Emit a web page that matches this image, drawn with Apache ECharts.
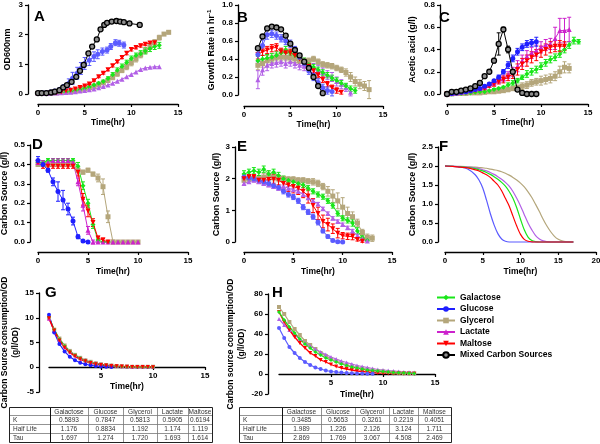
<!DOCTYPE html>
<html><head><meta charset="utf-8">
<script src="https://cdn.jsdelivr.net/npm/echarts@6/dist/echarts.min.js"></script>
<style>html,body{margin:0;padding:0;background:#fff}#c{width:600px;height:444px}</style>
</head><body><div id="c"></div>
<script>
// ---------------- DATA ----------------
const tHalfHour = [0,0.5,1,1.5,2,2.5,3,3.5,4,4.5,5,5.5,6,6.5,7,7.5,8,8.5,9,9.5,10,10.5,11,11.5,12,12.5,13,13.5,14];
const tB = [1.5,2,2.5,3,3.5,4,4.5,5,5.5,6,6.5,7,7.5,8,8.5,9,9.5,10,10.5,11,11.5,12,12.5,13,13.5];
const tF = [0,1,2,3,4,4.5,5,5.5,6,6.5,7,7.5,8,8.5,9,9.5,10,10.5,11,11.5,12,12.5,13,13.5,14,14.5,15,15.5,16,17];

// Panel A: OD600nm
const tA_mixed = [0,0.4,0.9,1.4,1.8,2.3,2.7,3.1,3.6,4.1,4.5,4.9,5.4,5.8,6.3,6.7,7.1,7.4,7.9,8.4,8.8,9.2,9.8,10.9];
const A_mixed = [0.03,0.03,0.03,0.05,0.08,0.13,0.22,0.3,0.41,0.58,0.78,0.98,1.37,1.6,1.84,2.18,2.33,2.4,2.44,2.46,2.44,2.42,2.38,2.33];
const tA_glucose = [0,0.45,0.9,1.35,1.8,2.35,2.8,3.3,3.7,4.2,4.6,5.0,5.5,6.0,6.4,6.9,7.4,7.8,8.3,8.7,9.2];
const A_glucose = [0.03,0.04,0.05,0.07,0.1,0.16,0.22,0.36,0.53,0.7,0.86,1.03,1.14,1.26,1.34,1.43,1.48,1.6,1.73,1.71,1.65];
const A_glucose_sd = [0.01,0.01,0.01,0.02,0.03,0.05,0.1,0.15,0.2,0.2,0.2,0.2,0.18,0.16,0.15,0.12,0.1,0.1,0.1,0.1,0.1];
const A_galactose = [0.02,0.02,0.03,0.03,0.04,0.05,0.07,0.09,0.12,0.15,0.19,0.24,0.3,0.36,0.42,0.52,0.65,0.8,0.93,1.06,1.2,1.3,1.36,1.45,1.53,1.6,1.64];
const A_galactose_sd = [0,0,0,0,0,0,0.01,0.01,0.01,0.02,0.02,0.03,0.03,0.04,0.05,0.06,0.07,0.08,0.08,0.08,0.08,0.08,0.1,0.1,0.1,0.1,0.1];
const A_glycerol = [0.02,0.02,0.03,0.03,0.04,0.05,0.06,0.08,0.1,0.13,0.17,0.21,0.26,0.32,0.38,0.46,0.56,0.68,0.8,0.92,1.05,1.18,1.32,1.46,1.6,1.75,1.9,2.02,2.08];
const A_glycerol_sd = [0,0,0,0,0,0,0.01,0.01,0.01,0.02,0.02,0.03,0.04,0.05,0.06,0.07,0.08,0.08,0.08,0.1,0.1,0.1,0.1,0.1,0.1,0.08,0.08,0.05,0.05];
const A_lactate = [0.02,0.02,0.02,0.03,0.03,0.04,0.05,0.06,0.08,0.1,0.12,0.14,0.17,0.21,0.25,0.3,0.36,0.43,0.5,0.58,0.66,0.74,0.83,0.88,0.9,0.92,0.92];
const A_maltose = [0.02,0.02,0.03,0.04,0.05,0.07,0.1,0.13,0.17,0.22,0.27,0.34,0.45,0.58,0.7,0.82,0.95,1.09,1.23,1.37,1.5,1.57,1.63,1.68,1.72,1.73];
const A_maltose_sd = [0,0,0,0,0,0,0,0.01,0.01,0.01,0.01,0.02,0.02,0.03,0.03,0.04,0.04,0.04,0.04,0.05,0.05,0.05,0.05,0.05,0.05,0.05];

// Panel B: growth rate
const B_mixed = [0.52,0.65,0.74,0.76,0.75,0.73,0.66,0.57,0.5,0.44,0.37,0.3,0.2,0.1,0.02];
const B_glucose = [0.45,0.55,0.67,0.68,0.66,0.63,0.6,0.57,0.5,0.42,0.35,0.27,0.2,0.14,0.08,0.05,0.04];
const B_glucose_sd = [0.08,0.06,0.05,0.04,0.04,0.04,0.04,0.04,0.04,0.04,0.04,0.04,0.04,0.04,0.04,0.04,0.05];
const B_maltose = [0.45,0.48,0.5,0.52,0.53,0.48,0.47,0.47,0.44,0.4,0.36,0.32,0.27,0.22,0.17,0.12,0.08,0.05,0.03];
const B_maltose_sd = [0.05,0.04,0.04,0.04,0.04,0.04,0.04,0.04,0.04,0.04,0.03,0.03,0.03,0.03,0.03,0.03,0.03,0.03,0.02];
const B_galactose = [0.38,0.4,0.41,0.42,0.44,0.47,0.5,0.47,0.44,0.41,0.38,0.34,0.31,0.28,0.25,0.22,0.19,0.16,0.13,0.1,0.07,0.05];
const B_galactose_sd = [0.05,0.04,0.04,0.04,0.04,0.04,0.04,0.03,0.03,0.03,0.03,0.03,0.03,0.03,0.03,0.03,0.03,0.03,0.03,0.03,0.03,0.03];
const B_glycerol = [0.33,0.35,0.38,0.4,0.42,0.42,0.42,0.41,0.4,0.38,0.38,0.38,0.4,0.37,0.34,0.33,0.32,0.3,0.28,0.25,0.2,0.15,0.12,0.1,0.06];
const B_glycerol_sd = [0.05,0.04,0.06,0.04,0.04,0.04,0.04,0.04,0.04,0.03,0.03,0.03,0.03,0.03,0.03,0.03,0.03,0.03,0.03,0.04,0.05,0.05,0.05,0.05,0.1];
const B_lactate = [0.17,0.28,0.33,0.35,0.36,0.37,0.35,0.37,0.35,0.33,0.32,0.3,0.3,0.28,0.25,0.22,0.2,0.15,0.12,0.08,0.03];
const B_lactate_sd = [0.1,0.06,0.06,0.05,0.05,0.05,0.05,0.05,0.05,0.05,0.05,0.05,0.05,0.05,0.05,0.05,0.05,0.05,0.05,0.04,0.04];

// Panel C: acetic acid
const C_mixed = [0,0.02,0.02,0.03,0.04,0.05,0.07,0.1,0.16,0.2,0.3,0.45,0.58,0.4,0.2,0.04,0.01,0,0,0];
const C_mixed_sd = [0,0,0,0,0,0,0,0,0.01,0.01,0.02,0.1,0.02,0.03,0.02,0.01,0,0,0,0];
const C_glucose = [0,0.005,0.01,0.015,0.02,0.03,0.04,0.05,0.07,0.09,0.12,0.15,0.2,0.26,0.32,0.38,0.42,0.45,0.46,0.47];
const C_glucose_sd = [0,0,0,0,0,0,0,0,0.01,0.01,0.01,0.02,0.02,0.03,0.03,0.03,0.03,0.03,0.03,0.04];
const C_maltose = [0,0.005,0.01,0.015,0.02,0.025,0.03,0.04,0.05,0.07,0.09,0.11,0.13,0.15,0.18,0.22,0.27,0.3,0.33,0.35,0.38,0.4,0.42,0.43,0.43,0.43];
const C_maltose_sd = [0,0,0,0,0,0,0,0,0.01,0.01,0.02,0.02,0.03,0.03,0.04,0.05,0.05,0.05,0.05,0.05,0.05,0.05,0.05,0.05,0.05,0.04];
const C_lactate = [0,0.005,0.01,0.015,0.02,0.03,0.04,0.05,0.06,0.08,0.1,0.12,0.14,0.17,0.2,0.25,0.3,0.34,0.37,0.39,0.42,0.44,0.45,0.5,0.57,0.57,0.58];
const C_lactate_sd = [0,0,0,0,0,0,0,0,0.01,0.01,0.02,0.02,0.03,0.03,0.04,0.05,0.05,0.05,0.05,0.05,0.05,0.05,0.05,0.1,0.11,0.11,0.11];
const C_galactose = [0,0,0.005,0.005,0.01,0.01,0.015,0.02,0.02,0.03,0.04,0.05,0.06,0.08,0.1,0.12,0.15,0.18,0.2,0.22,0.25,0.28,0.31,0.33,0.36,0.4,0.44,0.48,0.47];
const C_galactose_sd = [0,0,0,0,0,0,0,0,0,0,0.01,0.01,0.01,0.02,0.02,0.02,0.02,0.03,0.03,0.03,0.03,0.03,0.03,0.03,0.03,0.03,0.03,0.03,0.02];
const C_glycerol = [0,0,0.005,0.005,0.005,0.01,0.01,0.01,0.015,0.02,0.02,0.025,0.03,0.04,0.05,0.06,0.07,0.08,0.1,0.11,0.12,0.13,0.14,0.16,0.2,0.24,0.23];
const C_glycerol_sd = [0,0,0,0,0,0,0,0,0,0,0.01,0.01,0.01,0.02,0.02,0.02,0.03,0.03,0.03,0.03,0.04,0.04,0.04,0.04,0.05,0.05,0.04];

// Panel D: carbon source (g/l), 0.4 g/l
const D_glucose = [0.42,0.4,0.37,0.31,0.26,0.216,0.17,0.108,0.027,0.005,0];
const D_glucose_sd = [0.02,0.01,0.01,0.02,0.05,0.05,0.03,0.02,0.01,0,0];
const D_galactose = [0.41,0.41,0.42,0.42,0.42,0.42,0.42,0.42,0.39,0.29,0.2,0.09,0.01,0,0];
const D_galactose_sd = [0.01,0.01,0.01,0.01,0.01,0.01,0.01,0.01,0.02,0.02,0.02,0.02,0.01,0,0];
const D_maltose = [0.41,0.39,0.39,0.39,0.39,0.39,0.39,0.39,0.36,0.22,0.16,0.1,0.02,0.01,0];
const D_maltose_sd = [0.01,0.01,0.01,0.01,0.01,0.01,0.01,0.01,0.02,0.03,0.03,0.02,0.01,0.01,0];
const D_lactate = [0.41,0.41,0.41,0.42,0.42,0.42,0.42,0.41,0.31,0.19,0.06,0,0,0,0,0,0,0,0,0,0];
const D_lactate_sd = [0.01,0.01,0.01,0.01,0.01,0.01,0.01,0.01,0.02,0.03,0.02,0.01,0,0,0,0,0,0,0,0,0];
const D_glycerol = [0.4,0.4,0.4,0.4,0.4,0.4,0.4,0.4,0.37,0.36,0.37,0.35,0.33,0.285,0.13,0,0,0,0,0,0];
const D_glycerol_sd = [0.01,0.01,0.01,0.01,0.01,0.01,0.01,0.01,0.01,0.01,0.01,0.01,0.02,0.04,0.03,0.01,0,0,0,0,0];

// Panel E: carbon source (g/l), 2 g/l
const E_glucose = [2.05,2.02,2.0,1.95,1.9,1.85,1.78,1.72,1.6,1.5,1.42,1.3,1.1,0.95,0.8,0.62,0.35,0.17,0.05,0.01,0];
const E_glucose_sd = [0.1,0.08,0.08,0.08,0.08,0.08,0.08,0.08,0.08,0.08,0.08,0.08,0.08,0.08,0.08,0.08,0.06,0.05,0.04,0.03,0.02];
const E_maltose = [2.0,2.05,2.05,1.95,1.95,1.97,1.98,1.95,1.85,1.8,1.75,1.7,1.6,1.45,1.15,0.9,0.65,0.55,0.42,0.28,0.2,0.18,0.17,0.08,0.02];
const E_maltose_sd = [0.05,0.08,0.08,0.1,0.1,0.1,0.15,0.15,0.2,0.2,0.2,0.2,0.2,0.22,0.22,0.2,0.2,0.2,0.15,0.15,0.1,0.1,0.1,0.05,0.03];
const E_galactose = [2.15,2.2,2.25,2.2,2.3,2.15,2.2,2.1,2.0,1.95,1.9,1.85,1.8,1.7,1.6,1.5,1.43,1.3,1.15,0.9,0.75,0.68,0.6,0.35,0.14,0.05];
const E_galactose_sd = [0.1,0.1,0.1,0.1,0.1,0.1,0.1,0.1,0.08,0.08,0.08,0.08,0.08,0.08,0.08,0.08,0.08,0.08,0.08,0.08,0.08,0.08,0.1,0.1,0.05,0.03];
const E_lactate = [1.85,1.9,1.95,1.9,1.85,1.8,1.75,1.7,1.75,1.7,1.65,1.6,1.5,1.4,1.3,1.2,1.05,0.9,0.75,0.65,0.55,0.45,0.35,0.2,0.1,0.03];
const E_lactate_sd = [0.05,0.05,0.05,0.05,0.05,0.05,0.05,0.05,0.05,0.05,0.05,0.05,0.05,0.05,0.05,0.05,0.05,0.05,0.05,0.05,0.05,0.05,0.05,0.05,0.03,0.02];
const E_glycerol = [1.95,2.0,2.0,2.0,2.05,2.1,2.05,2.0,2.0,1.98,1.98,1.95,1.95,1.92,1.9,1.85,1.75,1.6,1.45,1.3,1.1,0.9,0.8,0.6,0.3,0.15,0.12];
const E_glycerol_sd = [0.05,0.08,0.08,0.1,0.12,0.15,0.12,0.1,0.08,0.08,0.08,0.08,0.08,0.08,0.1,0.1,0.1,0.15,0.2,0.25,0.3,0.2,0.15,0.12,0.1,0.1,0.1];

// Panel F: fitted carbon source curves
const F_glucose = [2.0,1.99,1.97,1.92,1.77,1.63,1.42,1.1,0.75,0.45,0.22,0.08,0.02,0,0,0,0,0,0,0,0,0,0,0,0,0,0,0,0,0];
const F_maltose = [2.0,1.99,1.97,1.95,1.9,1.87,1.82,1.77,1.7,1.6,1.5,1.35,1.15,0.95,0.68,0.42,0.2,0.07,0.02,0.005,0,0,0,0,0,0,0,0,0,0];
const F_galactose = [2.0,1.99,1.98,1.96,1.93,1.9,1.87,1.83,1.78,1.72,1.65,1.57,1.47,1.33,1.15,0.9,0.6,0.32,0.13,0.04,0.01,0,0,0,0,0,0,0,0,0];
const F_lactate = [2.0,1.99,1.98,1.97,1.95,1.93,1.9,1.87,1.83,1.78,1.72,1.65,1.57,1.47,1.33,1.15,0.95,0.72,0.5,0.32,0.17,0.08,0.03,0.01,0,0,0,0,0,0];
const F_glycerol = [2.0,1.99,1.99,1.98,1.97,1.96,1.95,1.94,1.92,1.9,1.88,1.85,1.81,1.76,1.7,1.63,1.55,1.45,1.32,1.17,0.99,0.8,0.6,0.42,0.27,0.15,0.07,0.03,0.01,0];

// Panel G: consumption/OD (0.4 g/l)
const G_galactose = [10.2,7.6,5.7,4.3,3.2,2.4,1.8,1.3,1.0,0.7,0.5,0.4,0.3,0.2,0.15,0.1,0.1,0.05,0.05,0.05,0.05];
const G_glucose = [10.6,7.0,4.7,3.2,2.1,1.4,0.9,0.6,0.4,0.25,0.15,0.1,0.05];
const G_glycerol = [10.0,7.6,5.8,4.4,3.3,2.5,1.9,1.4,1.1,0.8,0.6,0.45,0.35,0.25,0.2,0.15,0.1,0.1,0.1,0.1,0.1];
const G_lactate = [9.8,7.4,5.6,4.2,3.2,2.4,1.8,1.4,1.0,0.8,0.6,0.45,0.35,0.25,0.2,0.15,0.1,0.1,0.1,0.1,0.1];
const G_maltose = [9.9,7.4,5.4,4.0,3.0,2.2,1.6,1.2,0.85,0.6,0.45,0.33,0.25,0.18,0.13,0.1,0.07,0.05,0.04,0.03,0.02];

// Panel H: consumption/OD (2 g/l)
const H_glucose = [46,36,27,21,16,12,9,6.5,5,3.5,2.5,2,1.5,1,0.8,0.6,0.4,0.3,0.2];
const H_maltose = [62,52,44,37,31,26,21,18,14,12,9.5,7.5,6,5,4,3,2.5,2,1.5,1,0.8,0.6,0.5,0.4,0.3,0.3,0.2];
const H_galactose = [62,54,47,41,35,30,26,22,19,16,14,12,10,8.5,7,6,5,4,3.5,3,2.5,2,1.5,1.2,1,0.8,0.6];
const H_glycerol = [67,60,52,45,39,33,29,25,21,18,15,13,11,9,7.5,6.5,5.5,4.5,3.5,3,2.5,2,1.5,1.2,1,0.8,0.6];
const H_lactate = [55,49,44,39,35,31,28,25,22,19.5,17,15,13,11.5,10,8.5,7.5,6.5,5.5,4.5,4,3.5,3,2.5,2,1.8,1.5];

// Tables
const tableHeaders = ['Galactose','Glucose','Glycerol','Lactate','Maltose'];
const tableRowLabels = ['K','Half Life','Tau'];
const G_K = ['0.5893','0.7847','0.5813','0.5905','0.6194'];
const G_halfLife = ['1.176','0.8834','1.192','1.174','1.119'];
const G_tau = ['1.697','1.274','1.720','1.693','1.614'];
const H_K = ['0.3485','0.5653','0.3261','0.2219','0.4051'];
const H_halfLife = ['1.989','1.226','2.126','3.124','1.711'];
const H_tau = ['2.869','1.769','3.067','4.508','2.469'];

const legendNames = ['Galactose','Glucose','Glycerol','Lactate','Maltose','Mixed Carbon Sources'];

// ---------------- STYLE ----------------
const FONT = '"Liberation Sans", Arial, sans-serif';
const COLORS = {Galactose:'#19e619', Glucose:'#1f1fff', Glycerol:'#b4a67b', Lactate:'#cc22cc', Maltose:'#ff0000', 'Mixed Carbon Sources':'#000000'};
const LIGHT = {Glucose:'#5b5bff', Lactate:'#b260e6'};
const SYMBOL = {Galactose:'diamond', Glucose:'circle', Glycerol:'rect', Lactate:'triangle', Maltose:'triangle', 'Mixed Carbon Sources':'circle'};

const grids=[], xAxes=[], yAxes=[], series=[];

function panel(c){
  const gi = grids.length;
  grids.push({left:c.left, top:c.top, width:c.width, height:c.height, outerBoundsMode:'none', containLabel:false});
  xAxes.push({gridIndex:gi, type:'value', min:c.xMin, max:c.xMax, interval:5, offset:c.xOff||0,
    axisLine:{show:true, onZero:false, lineStyle:{color:'#000', width:1.3}},
    axisTick:{show:true, length:3, lineStyle:{color:'#000', width:1.2}},
    axisLabel:{fontSize:8, fontWeight:'bold', color:'#000', fontFamily:FONT, margin:5, showMinLabel:!c.hideMin},
    splitLine:{show:false},
    name:'Time(hr)', nameLocation:'middle', nameGap:c.xGap,
    nameTextStyle:{fontSize:8.5, fontWeight:'bold', color:'#000', fontFamily:FONT}});
  yAxes.push({gridIndex:gi, type:'value', min:c.yMin, max:c.yMax, interval:c.yInt, offset:c.yOff,
    axisLine:{show:true, onZero:false, lineStyle:{color:'#000', width:1.3}},
    axisTick:{show:true, length:3, lineStyle:{color:'#000', width:1.2}},
    axisLabel:{fontSize:8, fontWeight:'bold', color:'#000', fontFamily:FONT, margin:5, formatter:v=>v.toFixed(c.yDec)},
    splitLine:{show:false},
    name:c.yName, nameLocation:'middle', nameGap:c.yGap, nameRotate:90,
    nameTextStyle:{fontSize:c.yNameSize||9, fontWeight:'bold', color:'#000', fontFamily:FONT, lineHeight:11,
      rich:{n:{fontSize:9, fontWeight:'bold', fontFamily:FONT}, s:{fontSize:6, fontWeight:'bold', fontFamily:FONT, verticalAlign:'top', padding:[0,0,5,0]}}}});
  return gi;
}

function addLine(gi, name, t, vals, sd, o){
  o = o || {};
  const col = (o.light && LIGHT[name]) ? LIGHT[name] : COLORS[name];
  const mixed = name==='Mixed Carbon Sources';
  series.push({type:'line', name, xAxisIndex:gi, yAxisIndex:gi,
    data: vals.map((v,i)=>[t[i], v]),
    symbol: SYMBOL[name], symbolSize: mixed ? 5 : (o.size||5), symbolRotate: name==='Maltose' ? 180 : 0,
    showSymbol: o.noSymbol ? false : true, smooth: o.smooth || false,
    lineStyle:{color:col, width:o.lw||1},
    itemStyle:{color: mixed ? '#8e8e8e' : col, borderColor: col, borderWidth: mixed ? 1.3 : 0},
    z: o.z||3, animation:false, silent:true, clip:false});
  if (sd) {
    series.push({type:'custom', name:name+' SD', xAxisIndex:gi, yAxisIndex:gi, coordinateSystem:'cartesian2d',
      data: vals.map((v,i)=>[t[i], v, sd[i]]), z:2, silent:true, animation:false, clip:false,
      renderItem:(p, api)=>{
        const x=api.value(0), y=api.value(1), d=api.value(2);
        if (!d) return null;
        const a=api.coord([x,y+d]), b=api.coord([x,y-d]), w=2;
        const st={stroke:col, lineWidth:1};
        return {type:'group', children:[
          {type:'line', shape:{x1:a[0],y1:a[1],x2:b[0],y2:b[1]}, style:st},
          {type:'line', shape:{x1:a[0]-w,y1:a[1],x2:a[0]+w,y2:a[1]}, style:st},
          {type:'line', shape:{x1:b[0]-w,y1:b[1],x2:b[0]+w,y2:b[1]}, style:st}]};
      }});
  }
}

// ---------------- PANELS ----------------
const gD = panel({left:38, top:145, width:150, height:97, xMin:0, xMax:15, xOff:10, xGap:15, yMin:0, yMax:0.5, yInt:0.1, yDec:1, yOff:8, yGap:20, yName:'Carbon Source (g/l)'});
addLine(gD,'Glycerol',tHalfHour,D_glycerol,D_glycerol_sd);
addLine(gD,'Galactose',tHalfHour,D_galactose,D_galactose_sd);
addLine(gD,'Lactate',tHalfHour,D_lactate,D_lactate_sd);
addLine(gD,'Maltose',tHalfHour,D_maltose,D_maltose_sd);
addLine(gD,'Glucose',tHalfHour,D_glucose,D_glucose_sd);

const gA = panel({left:38, top:5, width:140, height:89, xMin:0, xMax:15, xOff:10, xGap:14, yMin:0, yMax:3, yInt:1, yDec:0, yOff:10, yGap:15, yName:'OD600nm'});
addLine(gA,'Mixed Carbon Sources',tA_mixed,A_mixed,null,{z:5});
addLine(gA,'Glycerol',tHalfHour,A_glycerol,A_glycerol_sd);
addLine(gA,'Galactose',tHalfHour,A_galactose,A_galactose_sd);
addLine(gA,'Lactate',tHalfHour,A_lactate,null,{light:true});
addLine(gA,'Maltose',tHalfHour,A_maltose,A_maltose_sd);
addLine(gA,'Glucose',tA_glucose,A_glucose,A_glucose_sd,{light:true});

const gB = panel({left:244, top:5, width:139, height:90, xMin:0, xMax:15, xOff:11, xGap:14, yMin:0, yMax:1, yInt:0.2, yDec:1, yOff:6, yGap:21, yName:'{n|Growth Rate in hr}{s|-1}'});
addLine(gB,'Glycerol',tB,B_glycerol,B_glycerol_sd);
addLine(gB,'Lactate',tB,B_lactate,B_lactate_sd,{light:true});
addLine(gB,'Galactose',tB,B_galactose,B_galactose_sd);
addLine(gB,'Maltose',tB,B_maltose,B_maltose_sd);
addLine(gB,'Glucose',tB,B_glucose,B_glucose_sd,{light:true});
addLine(gB,'Mixed Carbon Sources',tB,B_mixed,null,{z:5});

const gC = panel({left:447, top:5, width:141, height:89, xMin:0, xMax:15, xOff:10, xGap:14, yMin:0, yMax:0.8, yInt:0.2, yDec:1, yOff:7, yGap:22, yName:'Acetic acid (g/l)'});
addLine(gC,'Glycerol',tHalfHour,C_glycerol,C_glycerol_sd);
addLine(gC,'Galactose',tHalfHour,C_galactose,C_galactose_sd);
addLine(gC,'Lactate',tHalfHour,C_lactate,C_lactate_sd);
addLine(gC,'Maltose',tHalfHour,C_maltose,C_maltose_sd);
addLine(gC,'Glucose',tHalfHour,C_glucose,C_glucose_sd);
addLine(gC,'Mixed Carbon Sources',tHalfHour,C_mixed,C_mixed_sd,{z:5});

const gE = panel({left:244, top:147, width:148, height:95, xMin:0, xMax:15, xOff:10, xGap:15, yMin:0, yMax:3, yInt:1, yDec:0, yOff:9, yGap:13, yName:'Carbon Source (g/l)'});
addLine(gE,'Glycerol',tHalfHour,E_glycerol,E_glycerol_sd);
addLine(gE,'Galactose',tHalfHour,E_galactose,E_galactose_sd);
addLine(gE,'Lactate',tHalfHour,E_lactate,E_lactate_sd,{light:true});
addLine(gE,'Glucose',tHalfHour,E_glucose,E_glucose_sd,{light:true});
addLine(gE,'Maltose',tHalfHour,E_maltose,E_maltose_sd);

const gF = panel({left:445, top:147, width:151, height:95, xMin:0, xMax:20, xOff:10, xGap:15, yMin:0, yMax:2.5, yInt:0.5, yDec:1, yOff:7, yGap:19, yName:'Carbon Source (g/l)'});
addLine(gF,'Glycerol',tF,F_glycerol,null,{noSymbol:true,smooth:0.3,lw:1.2});
addLine(gF,'Lactate',tF,F_lactate,null,{noSymbol:true,smooth:0.3,lw:1.2,light:true});
addLine(gF,'Galactose',tF,F_galactose,null,{noSymbol:true,smooth:0.3,lw:1.2});
addLine(gF,'Glucose',tF,F_glucose,null,{noSymbol:true,smooth:0.3,lw:1.2,light:true});
addLine(gF,'Maltose',tF,F_maltose,null,{noSymbol:true,smooth:0.3,lw:1.2});

// G and H: x axis drawn at y = 0 (negative offset lifts the bottom axis to the zero line)
const gG = panel({left:49, top:293, width:156, height:99, xMin:0, xMax:15, xOff:-25, hideMin:true, xGap:15, yMin:-5, yMax:15, yInt:5, yDec:0, yOff:10, yGap:18, yNameSize:8.5, yName:'Carbon Source consumption/OD\n(g/l/OD)'});
addLine(gG,'Glycerol',tHalfHour,G_glycerol,null,{size:4,lw:1.2});
addLine(gG,'Lactate',tHalfHour,G_lactate,null,{size:4,lw:1.2});
addLine(gG,'Galactose',tHalfHour,G_galactose,null,{size:4,lw:1.2});
addLine(gG,'Glucose',tHalfHour,G_glucose,null,{size:4,lw:1.2});
addLine(gG,'Maltose',tHalfHour,G_maltose,null,{size:4,lw:1.5});

const gH = panel({left:279, top:294, width:156, height:100, xMin:0, xMax:15, xOff:-20, hideMin:true, xGap:16, yMin:-20, yMax:80, yInt:20, yDec:0, yOff:11, yGap:17, yNameSize:8.5, yName:'Carbon source consumption/OD\n(g/l/OD)'});
addLine(gH,'Glycerol',tHalfHour,H_glycerol,null,{size:4,lw:1.2});
addLine(gH,'Lactate',tHalfHour,H_lactate,null,{size:4,lw:1.2,light:true});
addLine(gH,'Maltose',tHalfHour,H_maltose,null,{size:4,lw:1.3});
addLine(gH,'Galactose',tHalfHour,H_galactose,null,{size:4,lw:1.3});
addLine(gH,'Glucose',tHalfHour,H_glucose,null,{size:4,lw:1.2,light:true});

// ---------------- GRAPHICS: letters and tables ----------------
const graphics = [];
[['A',34,17],['B',237,18],['C',439,18],['D',32,145],['E',237,147],['F',439,147],['G',45,293],['H',272,293]].forEach(([s,x,y])=>{
  graphics.push({type:'text', x, y, style:{text:s, font:'bold 15px '+FONT, fill:'#000', align:'left', verticalAlign:'middle'}, z:10});
});
function table(cols, rows, cells){
  const L=cols[0], R=cols[cols.length-1], T=rows[0], B=rows[rows.length-1];
  rows.forEach((y,i)=>{ if(i>0 && i<rows.length-1) graphics.push({type:'line', shape:{x1:L,y1:y+0.5,x2:R,y2:y+0.5}, style:{stroke:'#777', lineWidth:0.8}}); });
  cols.forEach((x,j)=>{ if(j>0 && j<cols.length-1) graphics.push({type:'line', shape:{x1:x+0.5,y1:T,x2:x+0.5,y2:B}, style:{stroke: j===1?'#111':'#777', lineWidth: j===1?1:0.8}}); });
  graphics.push({type:'rect', shape:{x:L+0.5,y:T+0.5,width:R-L,height:B-T}, style:{fill:'none', stroke:'#222', lineWidth:1}});
  tableHeaders.forEach((h,j)=>graphics.push({type:'text', x:(cols[j+1]+cols[j+2])/2, y:(rows[0]+rows[1])/2+1, style:{text:h, font:'6.5px '+FONT, fill:'#333', align:'center', verticalAlign:'middle'}}));
  tableRowLabels.forEach((r,i)=>{
    graphics.push({type:'text', x:L+4, y:(rows[i+1]+rows[i+2])/2+1, style:{text:r, font:'6.5px '+FONT, fill:'#333', align:'left', verticalAlign:'middle'}});
    cells[i].forEach((v,j)=>graphics.push({type:'text', x:(cols[j+1]+cols[j+2])/2, y:(rows[i+1]+rows[i+2])/2+1, style:{text:v, font:'6.5px '+FONT, fill:'#333', align:'center', verticalAlign:'middle'}}));
  });
}
table([9,50,88,123,157,188,212],[407,415,424,433,442],[G_K,G_halfLife,G_tau]);
table([239,282,321,355,389,418,451],[407,415,424,433,442],[H_K,H_halfLife,H_tau]);

const chart = echarts.init(document.getElementById('c'), null, {renderer:'canvas'});
chart.setOption({
  animation:false, backgroundColor:'#fff',
  grid:grids, xAxis:xAxes, yAxis:yAxes, series,
  legend:{data:legendNames, orient:'vertical', left:436, top:293, itemWidth:18, itemHeight:7, itemGap:2.5, padding:0, selectedMode:false,
    textStyle:{fontSize:8.5, fontWeight:'bold', color:'#000', fontFamily:FONT}},
  graphic:graphics
});
</script></body></html>
